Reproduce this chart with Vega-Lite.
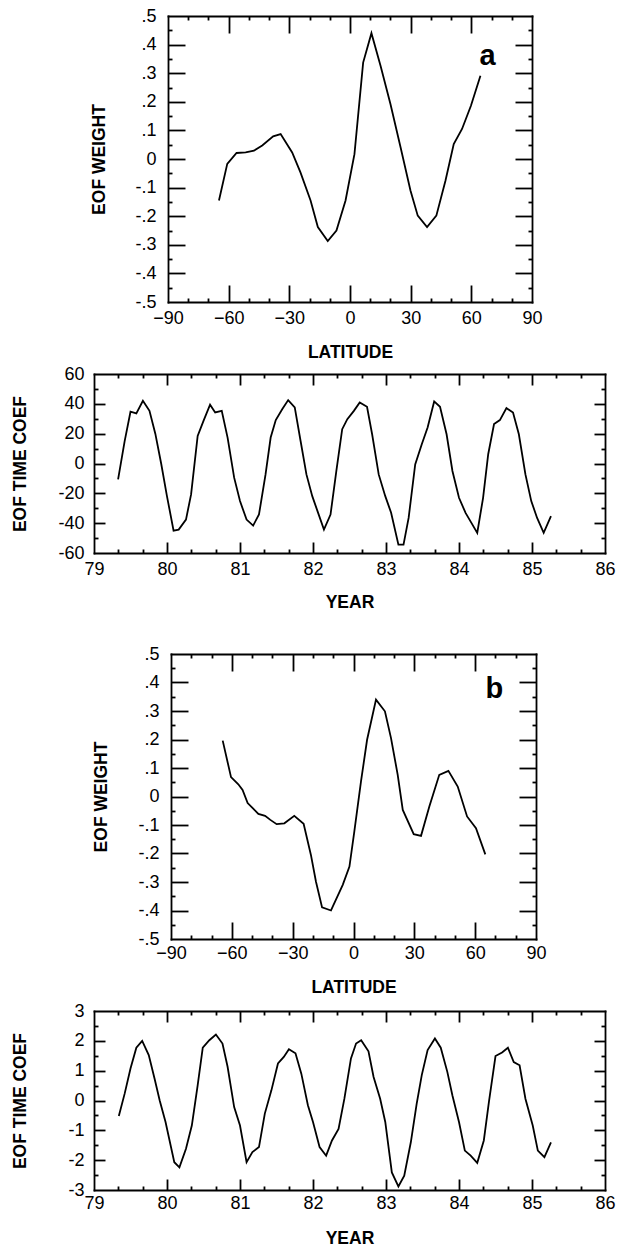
{
  "$schema": "https://vega.github.io/schema/vega-lite/v6.json",
  "padding": {"left": 11, "top": 7, "right": 0, "bottom": 0},
  "bounds": "flush",
  "spacing": 72,
  "config": {
    "view": {"stroke": null},
    "font": "Liberation Sans",
    "axis": {
      "grid": false,
      "domainColor": "black",
      "domainWidth": 1.8,
      "domainCap": "square",
      "tickColor": "black",
      "tickWidth": 1.8,
      "labelFont": "Liberation Sans",
      "labelFontSize": 18,
      "labelColor": "black",
      "labelFlush": false,
      "labelOverlap": false,
      "labelBound": false,
      "titleFont": "Liberation Sans",
      "titleFontSize": 17.5,
      "titleFontWeight": "bold",
      "titleColor": "black",
      "minExtent": 0
    }
  },
  "datasets": {
    "eofA": [
      {"lat": -64.8, "w": -0.145}, {"lat": -60.7, "w": -0.017}, {"lat": -56.1, "w": 0.021},
      {"lat": -51.6, "w": 0.023}, {"lat": -47.5, "w": 0.029}, {"lat": -43.4, "w": 0.047},
      {"lat": -38.0, "w": 0.079}, {"lat": -34.3, "w": 0.087}, {"lat": -28.6, "w": 0.023},
      {"lat": -24.5, "w": -0.047}, {"lat": -19.5, "w": -0.145}, {"lat": -15.9, "w": -0.238},
      {"lat": -11.0, "w": -0.287}, {"lat": -6.7, "w": -0.25}, {"lat": -2.2, "w": -0.145},
      {"lat": 2.2, "w": 0.017}, {"lat": 6.5, "w": 0.337}, {"lat": 10.6, "w": 0.44},
      {"lat": 15.1, "w": 0.326}, {"lat": 20.0, "w": 0.192}, {"lat": 25.0, "w": 0.041},
      {"lat": 29.9, "w": -0.11}, {"lat": 33.5, "w": -0.198}, {"lat": 38.1, "w": -0.238},
      {"lat": 42.7, "w": -0.198}, {"lat": 47.2, "w": -0.076}, {"lat": 51.3, "w": 0.052},
      {"lat": 55.4, "w": 0.105}, {"lat": 59.8, "w": 0.186}, {"lat": 64.5, "w": 0.291}
    ],
    "eofB": [
      {"lat": -64.5, "w": 0.196}, {"lat": -60.4, "w": 0.068}, {"lat": -56.8, "w": 0.043},
      {"lat": -54.7, "w": 0.023}, {"lat": -52.2, "w": -0.023}, {"lat": -49.7, "w": -0.041},
      {"lat": -46.9, "w": -0.061}, {"lat": -43.6, "w": -0.068}, {"lat": -41.0, "w": -0.082},
      {"lat": -37.9, "w": -0.097}, {"lat": -34.1, "w": -0.094}, {"lat": -29.2, "w": -0.068},
      {"lat": -24.6, "w": -0.096}, {"lat": -21.0, "w": -0.205}, {"lat": -18.5, "w": -0.299},
      {"lat": -15.5, "w": -0.389}, {"lat": -11.1, "w": -0.4}, {"lat": -5.3, "w": -0.31},
      {"lat": -2.0, "w": -0.246}, {"lat": 0.4, "w": -0.123}, {"lat": 3.7, "w": 0.053},
      {"lat": 6.7, "w": 0.199}, {"lat": 11.1, "w": 0.34}, {"lat": 15.5, "w": 0.299},
      {"lat": 18.5, "w": 0.205}, {"lat": 21.8, "w": 0.076}, {"lat": 24.3, "w": -0.047},
      {"lat": 29.7, "w": -0.132}, {"lat": 33.3, "w": -0.138}, {"lat": 37.4, "w": -0.035},
      {"lat": 42.3, "w": 0.076}, {"lat": 46.8, "w": 0.09}, {"lat": 51.4, "w": 0.035},
      {"lat": 56.0, "w": -0.07}, {"lat": 60.4, "w": -0.111}, {"lat": 65.0, "w": -0.203}
    ],
    "timeA": [
      {"year": 79.33, "coef": -10.7}, {"year": 79.42, "coef": 15}, {"year": 79.5, "coef": 34.7},
      {"year": 79.58, "coef": 33.6}, {"year": 79.67, "coef": 42}, {"year": 79.76, "coef": 35.3},
      {"year": 79.84, "coef": 20}, {"year": 79.92, "coef": 0}, {"year": 80.0, "coef": -22},
      {"year": 80.09, "coef": -45}, {"year": 80.16, "coef": -44.3}, {"year": 80.26, "coef": -37.6},
      {"year": 80.33, "coef": -20.7}, {"year": 80.42, "coef": 18.5}, {"year": 80.5, "coef": 28.6},
      {"year": 80.59, "coef": 39.4}, {"year": 80.66, "coef": 34.2}, {"year": 80.75, "coef": 35.3},
      {"year": 80.83, "coef": 17.4}, {"year": 80.92, "coef": -9.5}, {"year": 81.0, "coef": -25.2},
      {"year": 81.09, "coef": -37.6}, {"year": 81.18, "coef": -41.6}, {"year": 81.26, "coef": -34.2},
      {"year": 81.35, "coef": -7.3}, {"year": 81.42, "coef": 17.4}, {"year": 81.49, "coef": 29.1},
      {"year": 81.58, "coef": 36.5}, {"year": 81.66, "coef": 42.5}, {"year": 81.75, "coef": 37.6},
      {"year": 81.83, "coef": 15.1}, {"year": 81.91, "coef": -7.3}, {"year": 81.99, "coef": -21.9},
      {"year": 82.07, "coef": -33.1}, {"year": 82.15, "coef": -44.3}, {"year": 82.24, "coef": -34.2},
      {"year": 82.32, "coef": -5}, {"year": 82.4, "coef": 23}, {"year": 82.47, "coef": 29.7},
      {"year": 82.56, "coef": 35.3}, {"year": 82.64, "coef": 40.9}, {"year": 82.74, "coef": 38},
      {"year": 82.81, "coef": 19.6}, {"year": 82.9, "coef": -7.3}, {"year": 82.99, "coef": -21.9},
      {"year": 83.07, "coef": -33}, {"year": 83.17, "coef": -54.4}, {"year": 83.24, "coef": -54.4},
      {"year": 83.31, "coef": -36.5}, {"year": 83.4, "coef": -0.6}, {"year": 83.49, "coef": 12.9},
      {"year": 83.57, "coef": 24.1}, {"year": 83.66, "coef": 41.6}, {"year": 83.74, "coef": 38},
      {"year": 83.83, "coef": 19.6}, {"year": 83.91, "coef": -5}, {"year": 84.0, "coef": -23},
      {"year": 84.09, "coef": -33.1}, {"year": 84.17, "coef": -39.8}, {"year": 84.25, "coef": -46.5},
      {"year": 84.33, "coef": -23}, {"year": 84.4, "coef": 6.2}, {"year": 84.48, "coef": 26.4},
      {"year": 84.56, "coef": 29.1}, {"year": 84.65, "coef": 37.1}, {"year": 84.74, "coef": 34.2},
      {"year": 84.82, "coef": 19.6}, {"year": 84.91, "coef": -7.3}, {"year": 84.99, "coef": -25.2},
      {"year": 85.07, "coef": -36.5}, {"year": 85.16, "coef": -46.5}, {"year": 85.26, "coef": -35.3}
    ],
    "timeB": [
      {"year": 79.34, "coef": -0.52}, {"year": 79.42, "coef": 0.23}, {"year": 79.5, "coef": 1.07},
      {"year": 79.58, "coef": 1.77}, {"year": 79.66, "coef": 2.0}, {"year": 79.75, "coef": 1.52},
      {"year": 79.83, "coef": 0.73}, {"year": 79.9, "coef": 0.0}, {"year": 79.98, "coef": -0.72},
      {"year": 80.1, "coef": -2.07}, {"year": 80.17, "coef": -2.24}, {"year": 80.26, "coef": -1.62},
      {"year": 80.34, "coef": -0.84}, {"year": 80.42, "coef": 0.51}, {"year": 80.49, "coef": 1.77},
      {"year": 80.58, "coef": 2.02}, {"year": 80.67, "coef": 2.21}, {"year": 80.76, "coef": 1.91},
      {"year": 80.83, "coef": 1.13}, {"year": 80.92, "coef": -0.22}, {"year": 81.0, "coef": -0.84},
      {"year": 81.09, "coef": -2.07}, {"year": 81.17, "coef": -1.73}, {"year": 81.26, "coef": -1.56},
      {"year": 81.34, "coef": -0.44}, {"year": 81.43, "coef": 0.34}, {"year": 81.52, "coef": 1.24},
      {"year": 81.6, "coef": 1.46}, {"year": 81.67, "coef": 1.72}, {"year": 81.76, "coef": 1.58},
      {"year": 81.84, "coef": 0.9}, {"year": 81.93, "coef": -0.16}, {"year": 82.0, "coef": -0.72},
      {"year": 82.09, "coef": -1.56}, {"year": 82.18, "coef": -1.85}, {"year": 82.26, "coef": -1.34},
      {"year": 82.35, "coef": -0.95}, {"year": 82.43, "coef": 0.06}, {"year": 82.52, "coef": 1.41},
      {"year": 82.59, "coef": 1.91}, {"year": 82.66, "coef": 2.02}, {"year": 82.76, "coef": 1.65},
      {"year": 82.83, "coef": 0.79}, {"year": 82.92, "coef": 0.06}, {"year": 82.99, "coef": -0.72},
      {"year": 83.08, "coef": -2.41}, {"year": 83.17, "coef": -2.88}, {"year": 83.25, "coef": -2.52},
      {"year": 83.34, "coef": -1.4}, {"year": 83.42, "coef": -0.11}, {"year": 83.49, "coef": 0.85},
      {"year": 83.57, "coef": 1.69}, {"year": 83.67, "coef": 2.08}, {"year": 83.75, "coef": 1.77},
      {"year": 83.84, "coef": 0.96}, {"year": 83.91, "coef": 0.17}, {"year": 84.0, "coef": -0.72},
      {"year": 84.08, "coef": -1.68}, {"year": 84.16, "coef": -1.85}, {"year": 84.25, "coef": -2.09},
      {"year": 84.34, "coef": -1.34}, {"year": 84.41, "coef": -0.05}, {"year": 84.5, "coef": 1.49},
      {"year": 84.59, "coef": 1.61}, {"year": 84.67, "coef": 1.77}, {"year": 84.75, "coef": 1.29},
      {"year": 84.83, "coef": 1.18}, {"year": 84.91, "coef": 0.06}, {"year": 85.01, "coef": -0.84},
      {"year": 85.08, "coef": -1.68}, {"year": 85.17, "coef": -1.9}, {"year": 85.26, "coef": -1.4}
    ]
  },
  "vconcat": [
    {
      "width": 438,
      "height": 286,
      "data": {"name": "eofA"},
      "resolve": {"axis": {"x": "independent", "y": "independent"}},
      "layer": [
        {
          "mark": {"type": "line", "color": "black", "strokeWidth": 1.8},
          "encoding": {
            "x": {"field": "lat", "type": "quantitative",
              "scale": {"domain": [-90, 90], "range": [74, 438], "nice": false, "zero": false},
              "axis": {"orient": "bottom", "values": [-90, -60, -30, 0, 30, 60, 90], "format": "d",
                "ticks": false, "tickSize": 0, "labelPadding": 7, "title": "LATITUDE", "titlePadding": 16}},
            "y": {"field": "w", "type": "quantitative",
              "scale": {"domain": [-0.5, 0.5], "nice": false, "zero": false},
              "axis": {"orient": "left", "offset": -74,
                "values": [-0.5, -0.4, -0.3, -0.2, -0.1, 0, 0.1, 0.2, 0.3, 0.4, 0.5],
                "labelExpr": "datum.value == 0 ? '0' : (datum.value < 0 ? '-' : '') + '.' + format(round(abs(datum.value) * 10), 'd')",
                "ticks": false, "tickSize": 0, "labelPadding": 12, "title": "EOF WEIGHT", "titlePadding": 26}}
          }
        },
        {
          "mark": {"type": "line", "strokeOpacity": 0},
          "encoding": {
            "x": {"field": "lat", "type": "quantitative",
              "axis": {"orient": "top", "ticks": false, "labels": false, "title": null}},
            "y": {"field": "w", "type": "quantitative",
              "axis": {"orient": "right", "ticks": false, "labels": false, "title": null}}
          }
        },
        {
          "mark": {"type": "line", "strokeOpacity": 0},
          "encoding": {
            "x": {"field": "lat", "type": "quantitative",
              "axis": {"orient": "bottom", "offset": -17, "values": [-60, -30, 0, 30, 60], "tickSize": 17, "domain": false, "labels": false, "title": null}},
            "y": {"field": "w", "type": "quantitative",
              "axis": {"orient": "left", "offset": -91, "values": [-0.4, -0.3, -0.2, -0.1, 0, 0.1, 0.2, 0.3, 0.4], "tickSize": 17, "domain": false, "labels": false, "title": null}}
          }
        },
        {
          "mark": {"type": "line", "strokeOpacity": 0},
          "encoding": {
            "x": {"field": "lat", "type": "quantitative",
              "axis": {"orient": "top", "offset": -17, "values": [-60, -30, 0, 30, 60], "tickSize": 17, "domain": false, "labels": false, "title": null}},
            "y": {"field": "w", "type": "quantitative",
              "axis": {"orient": "right", "offset": -17, "values": [-0.4, -0.3, -0.2, -0.1, 0, 0.1, 0.2, 0.3, 0.4], "tickSize": 17, "domain": false, "labels": false, "title": null}}
          }
        },
        {
          "mark": {"type": "line", "strokeOpacity": 0},
          "encoding": {
            "x": {"field": "lat", "type": "quantitative",
              "axis": {"orient": "bottom", "offset": -4, "values": [-80, -70, -50, -40, -20, -10, 10, 20, 40, 50, 70, 80], "tickSize": 4, "domain": false, "labels": false, "title": null}},
            "y": {"field": "w", "type": "quantitative",
              "axis": {"orient": "left", "offset": -78, "values": [-0.45, -0.35, -0.25, -0.15, -0.05, 0.05, 0.15, 0.25, 0.35, 0.45], "tickSize": 4, "domain": false, "labels": false, "title": null}}
          }
        },
        {
          "mark": {"type": "line", "strokeOpacity": 0},
          "encoding": {
            "x": {"field": "lat", "type": "quantitative",
              "axis": {"orient": "top", "offset": -4, "values": [-80, -70, -50, -40, -20, -10, 10, 20, 40, 50, 70, 80], "tickSize": 4, "domain": false, "labels": false, "title": null}},
            "y": {"field": "w", "type": "quantitative",
              "axis": {"orient": "right", "offset": -4, "values": [-0.45, -0.35, -0.25, -0.15, -0.05, 0.05, 0.15, 0.25, 0.35, 0.45], "tickSize": 4, "domain": false, "labels": false, "title": null}}
          }
        },
        {
          "data": {"values": [{"panel": "a", "lat": 68, "w": 0.33}]},
          "mark": {"type": "text", "font": "Liberation Sans", "fontSize": 29, "fontWeight": "bold", "align": "center", "baseline": "alphabetic", "color": "black"},
          "encoding": {
            "x": {"field": "lat", "type": "quantitative", "axis": null},
            "y": {"field": "w", "type": "quantitative", "axis": null},
            "text": {"field": "panel"}
          }
        }
      ]
    },
    {
      "width": 511,
      "height": 179,
      "data": {"name": "timeA"},
      "resolve": {"axis": {"x": "independent", "y": "independent"}},
      "layer": [
        {
          "mark": {"type": "line", "color": "black", "strokeWidth": 1.8},
          "encoding": {
            "x": {"field": "year", "type": "quantitative",
              "scale": {"domain": [79, 86], "nice": false, "zero": false},
              "axis": {"orient": "bottom", "values": [79, 80, 81, 82, 83, 84, 85, 86], "format": "d",
                "ticks": false, "tickSize": 0, "labelPadding": 7, "title": "YEAR", "titlePadding": 15}},
            "y": {"field": "coef", "type": "quantitative",
              "scale": {"domain": [-60, 60], "nice": false, "zero": false},
              "axis": {"orient": "left", "values": [-60, -40, -20, 0, 20, 40, 60],
                "labelExpr": "(datum.value < 0 ? '-' : '') + format(abs(datum.value), 'd')",
                "ticks": false, "tickSize": 0, "labelPadding": 10, "title": "EOF TIME COEF", "titlePadding": 28}}
          }
        },
        {
          "mark": {"type": "line", "strokeOpacity": 0},
          "encoding": {
            "x": {"field": "year", "type": "quantitative",
              "axis": {"orient": "top", "ticks": false, "labels": false, "title": null}},
            "y": {"field": "coef", "type": "quantitative",
              "axis": {"orient": "right", "ticks": false, "labels": false, "title": null}}
          }
        },
        {
          "mark": {"type": "line", "strokeOpacity": 0},
          "encoding": {
            "x": {"field": "year", "type": "quantitative",
              "axis": {"orient": "bottom", "offset": -11, "values": [80, 81, 82, 83, 84, 85], "tickSize": 11, "domain": false, "labels": false, "title": null}},
            "y": {"field": "coef", "type": "quantitative",
              "axis": {"orient": "left", "offset": -11, "values": [-40, -20, 0, 20, 40], "tickSize": 11, "domain": false, "labels": false, "title": null}}
          }
        },
        {
          "mark": {"type": "line", "strokeOpacity": 0},
          "encoding": {
            "x": {"field": "year", "type": "quantitative",
              "axis": {"orient": "top", "offset": -11, "values": [80, 81, 82, 83, 84, 85], "tickSize": 11, "domain": false, "labels": false, "title": null}},
            "y": {"field": "coef", "type": "quantitative",
              "axis": {"orient": "right", "offset": -11, "values": [-40, -20, 0, 20, 40], "tickSize": 11, "domain": false, "labels": false, "title": null}}
          }
        },
        {
          "mark": {"type": "line", "strokeOpacity": 0},
          "encoding": {
            "x": {"field": "year", "type": "quantitative",
              "axis": {"orient": "bottom", "offset": -4, "values": [79.333, 79.667, 80.333, 80.667, 81.333, 81.667, 82.333, 82.667, 83.333, 83.667, 84.333, 84.667, 85.333, 85.667], "tickSize": 4, "domain": false, "labels": false, "title": null}},
            "y": {"field": "coef", "type": "quantitative",
              "axis": {"orient": "left", "offset": -4, "values": [-50, -30, -10, 10, 30, 50], "tickSize": 4, "domain": false, "labels": false, "title": null}}
          }
        },
        {
          "mark": {"type": "line", "strokeOpacity": 0},
          "encoding": {
            "x": {"field": "year", "type": "quantitative",
              "axis": {"orient": "top", "offset": -4, "values": [79.333, 79.667, 80.333, 80.667, 81.333, 81.667, 82.333, 82.667, 83.333, 83.667, 84.333, 84.667, 85.333, 85.667], "tickSize": 4, "domain": false, "labels": false, "title": null}},
            "y": {"field": "coef", "type": "quantitative",
              "axis": {"orient": "right", "offset": -4, "values": [-50, -30, -10, 10, 30, 50], "tickSize": 4, "domain": false, "labels": false, "title": null}}
          }
        }
      ]
    },
    {
      "width": 442,
      "height": 314,
      "data": {"name": "eofB"},
      "resolve": {"axis": {"x": "independent", "y": "independent"}},
      "layer": [
        {
          "mark": {"type": "line", "color": "black", "strokeWidth": 1.8},
          "encoding": {
            "x": {"field": "lat", "type": "quantitative",
              "scale": {"domain": [-90, 90], "range": [77, 442], "nice": false, "zero": false},
              "axis": {"orient": "bottom", "values": [-90, -60, -30, 0, 30, 60, 90], "format": "d",
                "ticks": false, "tickSize": 0, "labelPadding": 5, "title": "LATITUDE", "titlePadding": 16}},
            "y": {"field": "w", "type": "quantitative",
              "scale": {"domain": [-0.5, 0.5], "range": [314, 29], "nice": false, "zero": false},
              "axis": {"orient": "left", "offset": -77,
                "values": [-0.5, -0.4, -0.3, -0.2, -0.1, 0, 0.1, 0.2, 0.3, 0.4, 0.5],
                "labelExpr": "datum.value == 0 ? '0' : (datum.value < 0 ? '-' : '') + '.' + format(round(abs(datum.value) * 10), 'd')",
                "ticks": false, "tickSize": 0, "labelPadding": 12, "title": "EOF WEIGHT", "titlePadding": 27}}
          }
        },
        {
          "mark": {"type": "line", "strokeOpacity": 0},
          "encoding": {
            "x": {"field": "lat", "type": "quantitative",
              "axis": {"orient": "top", "offset": -29, "ticks": false, "labels": false, "title": null}},
            "y": {"field": "w", "type": "quantitative",
              "axis": {"orient": "right", "ticks": false, "labels": false, "title": null}}
          }
        },
        {
          "mark": {"type": "line", "strokeOpacity": 0},
          "encoding": {
            "x": {"field": "lat", "type": "quantitative",
              "axis": {"orient": "bottom", "offset": -17, "values": [-60, -30, 0, 30, 60], "tickSize": 17, "domain": false, "labels": false, "title": null}},
            "y": {"field": "w", "type": "quantitative",
              "axis": {"orient": "left", "offset": -94, "values": [-0.4, -0.3, -0.2, -0.1, 0, 0.1, 0.2, 0.3, 0.4], "tickSize": 17, "domain": false, "labels": false, "title": null}}
          }
        },
        {
          "mark": {"type": "line", "strokeOpacity": 0},
          "encoding": {
            "x": {"field": "lat", "type": "quantitative",
              "axis": {"orient": "top", "offset": -46, "values": [-60, -30, 0, 30, 60], "tickSize": 17, "domain": false, "labels": false, "title": null}},
            "y": {"field": "w", "type": "quantitative",
              "axis": {"orient": "right", "offset": -17, "values": [-0.4, -0.3, -0.2, -0.1, 0, 0.1, 0.2, 0.3, 0.4], "tickSize": 17, "domain": false, "labels": false, "title": null}}
          }
        },
        {
          "mark": {"type": "line", "strokeOpacity": 0},
          "encoding": {
            "x": {"field": "lat", "type": "quantitative",
              "axis": {"orient": "bottom", "offset": -4, "values": [-80, -70, -50, -40, -20, -10, 10, 20, 40, 50, 70, 80], "tickSize": 4, "domain": false, "labels": false, "title": null}},
            "y": {"field": "w", "type": "quantitative",
              "axis": {"orient": "left", "offset": -81, "values": [-0.45, -0.35, -0.25, -0.15, -0.05, 0.05, 0.15, 0.25, 0.35, 0.45], "tickSize": 4, "domain": false, "labels": false, "title": null}}
          }
        },
        {
          "mark": {"type": "line", "strokeOpacity": 0},
          "encoding": {
            "x": {"field": "lat", "type": "quantitative",
              "axis": {"orient": "top", "offset": -33, "values": [-80, -70, -50, -40, -20, -10, 10, 20, 40, 50, 70, 80], "tickSize": 4, "domain": false, "labels": false, "title": null}},
            "y": {"field": "w", "type": "quantitative",
              "axis": {"orient": "right", "offset": -4, "values": [-0.45, -0.35, -0.25, -0.15, -0.05, 0.05, 0.15, 0.25, 0.35, 0.45], "tickSize": 4, "domain": false, "labels": false, "title": null}}
          }
        },
        {
          "data": {"values": [{"panel": "b", "lat": 69.5, "w": 0.345}]},
          "mark": {"type": "text", "font": "Liberation Sans", "fontSize": 29, "fontWeight": "bold", "align": "center", "baseline": "alphabetic", "color": "black"},
          "encoding": {
            "x": {"field": "lat", "type": "quantitative", "axis": null},
            "y": {"field": "w", "type": "quantitative", "axis": null},
            "text": {"field": "panel"}
          }
        }
      ]
    },
    {
      "width": 511,
      "height": 179,
      "data": {"name": "timeB"},
      "resolve": {"axis": {"x": "independent", "y": "independent"}},
      "layer": [
        {
          "mark": {"type": "line", "color": "black", "strokeWidth": 1.8},
          "encoding": {
            "x": {"field": "year", "type": "quantitative",
              "scale": {"domain": [79, 86], "nice": false, "zero": false},
              "axis": {"orient": "bottom", "values": [79, 80, 81, 82, 83, 84, 85, 86], "format": "d",
                "ticks": false, "tickSize": 0, "labelPadding": 4, "title": "YEAR", "titlePadding": 17}},
            "y": {"field": "coef", "type": "quantitative",
              "scale": {"domain": [-3, 3], "nice": false, "zero": false},
              "axis": {"orient": "left", "values": [-3, -2, -1, 0, 1, 2, 3],
                "labelExpr": "(datum.value < 0 ? '-' : '') + format(abs(datum.value), 'd')",
                "ticks": false, "tickSize": 0, "labelPadding": 10, "title": "EOF TIME COEF", "titlePadding": 38}}
          }
        },
        {
          "mark": {"type": "line", "strokeOpacity": 0},
          "encoding": {
            "x": {"field": "year", "type": "quantitative",
              "axis": {"orient": "top", "ticks": false, "labels": false, "title": null}},
            "y": {"field": "coef", "type": "quantitative",
              "axis": {"orient": "right", "ticks": false, "labels": false, "title": null}}
          }
        },
        {
          "mark": {"type": "line", "strokeOpacity": 0},
          "encoding": {
            "x": {"field": "year", "type": "quantitative",
              "axis": {"orient": "bottom", "offset": -11, "values": [80, 81, 82, 83, 84, 85], "tickSize": 11, "domain": false, "labels": false, "title": null}},
            "y": {"field": "coef", "type": "quantitative",
              "axis": {"orient": "left", "offset": -11, "values": [-2, -1, 0, 1, 2], "tickSize": 11, "domain": false, "labels": false, "title": null}}
          }
        },
        {
          "mark": {"type": "line", "strokeOpacity": 0},
          "encoding": {
            "x": {"field": "year", "type": "quantitative",
              "axis": {"orient": "top", "offset": -11, "values": [80, 81, 82, 83, 84, 85], "tickSize": 11, "domain": false, "labels": false, "title": null}},
            "y": {"field": "coef", "type": "quantitative",
              "axis": {"orient": "right", "offset": -11, "values": [-2, -1, 0, 1, 2], "tickSize": 11, "domain": false, "labels": false, "title": null}}
          }
        },
        {
          "mark": {"type": "line", "strokeOpacity": 0},
          "encoding": {
            "x": {"field": "year", "type": "quantitative",
              "axis": {"orient": "bottom", "offset": -4, "values": [79.333, 79.667, 80.333, 80.667, 81.333, 81.667, 82.333, 82.667, 83.333, 83.667, 84.333, 84.667, 85.333, 85.667], "tickSize": 4, "domain": false, "labels": false, "title": null}},
            "y": {"field": "coef", "type": "quantitative",
              "axis": {"orient": "left", "offset": -4, "values": [-2.5, -1.5, -0.5, 0.5, 1.5, 2.5], "tickSize": 4, "domain": false, "labels": false, "title": null}}
          }
        },
        {
          "mark": {"type": "line", "strokeOpacity": 0},
          "encoding": {
            "x": {"field": "year", "type": "quantitative",
              "axis": {"orient": "top", "offset": -4, "values": [79.333, 79.667, 80.333, 80.667, 81.333, 81.667, 82.333, 82.667, 83.333, 83.667, 84.333, 84.667, 85.333, 85.667], "tickSize": 4, "domain": false, "labels": false, "title": null}},
            "y": {"field": "coef", "type": "quantitative",
              "axis": {"orient": "right", "offset": -4, "values": [-2.5, -1.5, -0.5, 0.5, 1.5, 2.5], "tickSize": 4, "domain": false, "labels": false, "title": null}}
          }
        }
      ]
    }
  ]
}
